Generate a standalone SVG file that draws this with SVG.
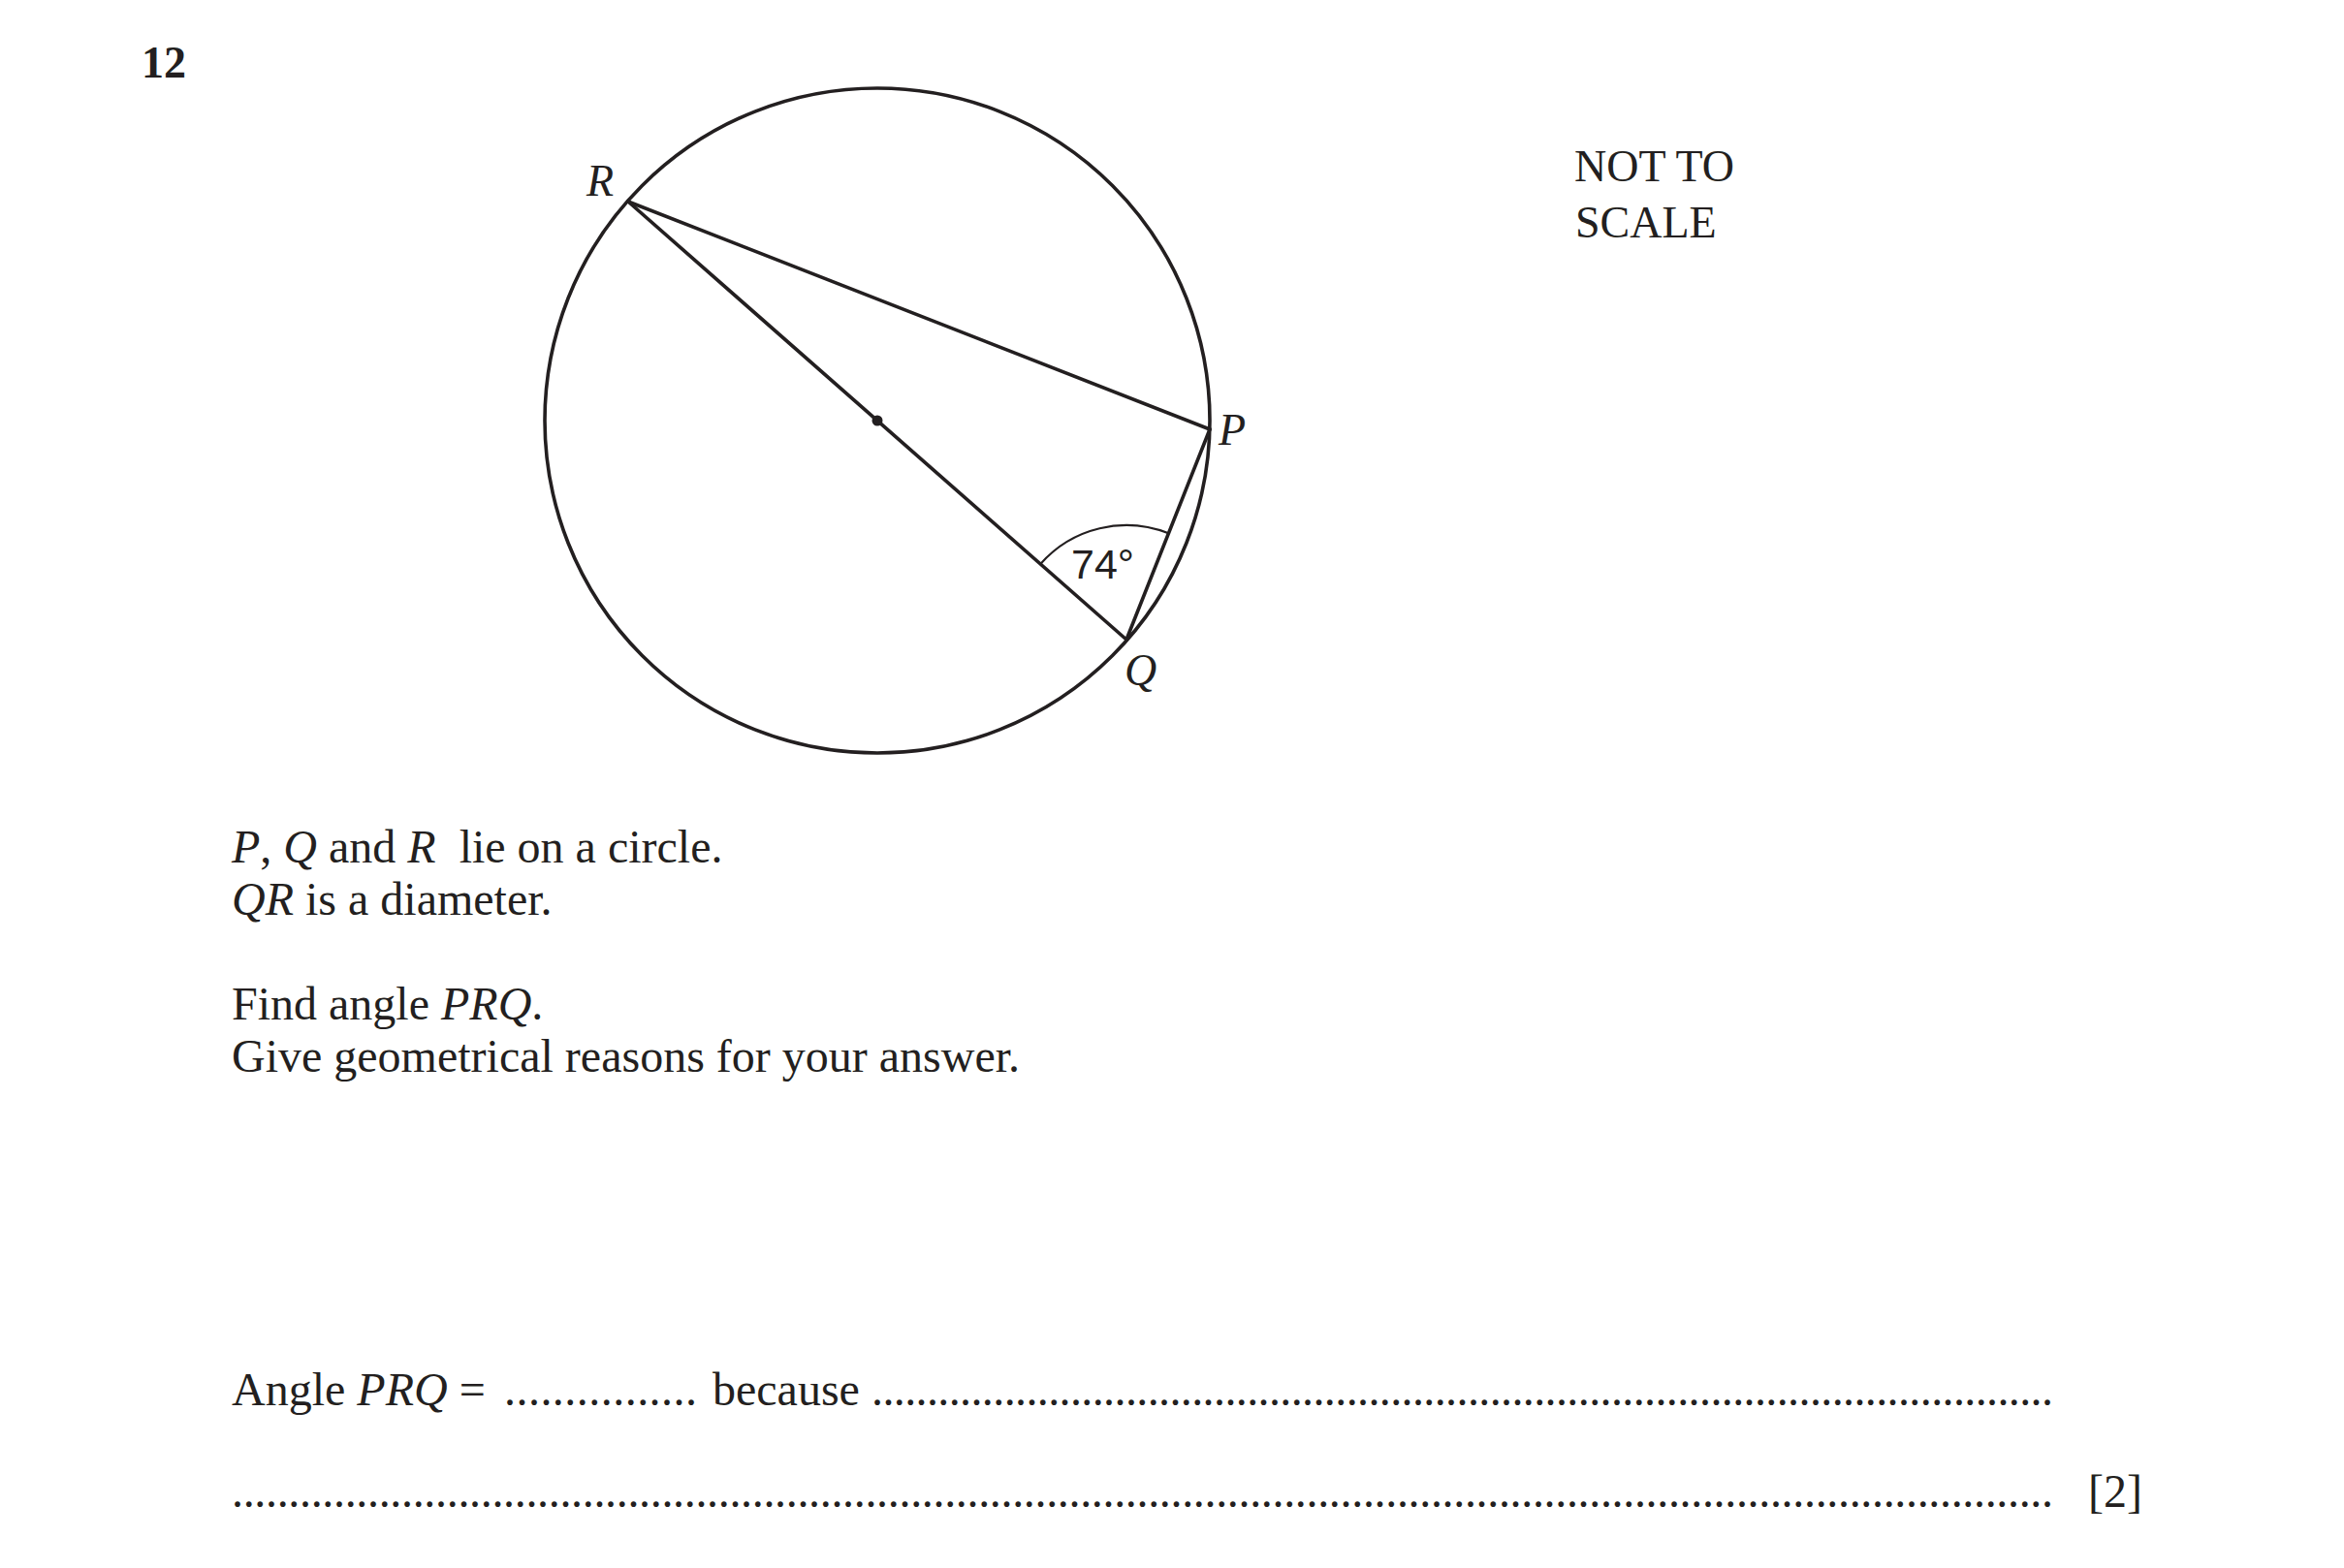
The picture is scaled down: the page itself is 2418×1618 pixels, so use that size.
<svg xmlns="http://www.w3.org/2000/svg" width="2418" height="1618" viewBox="0 0 2418 1618">
<style>
.t{font-family:"Liberation Serif","Times New Roman",serif;font-size:48px;fill:#231f20;white-space:pre}
.i{font-style:italic}
.lab{font-family:"Liberation Serif","Times New Roman",serif;font-size:46px;font-style:italic;fill:#231f20}
.ln{stroke:#231f20;stroke-width:3.6;fill:none;stroke-linecap:round}
</style>
<rect width="2418" height="1618" fill="#fff"/>
<text class="t" x="146" y="80" style="font-weight:bold;font-size:46px">12</text>
<g id="notscale">
<text class="t" x="1624" y="187" style="font-size:46px">NOT TO</text>
<text class="t" x="1625" y="245" style="font-size:46px">SCALE</text>
</g>
<g id="circle">
<circle class="ln" cx="905" cy="434" r="343"/>
<circle cx="905" cy="434" r="5.5" fill="#231f20"/>
</g>
<g id="connectors">
<line class="ln" x1="648" y1="208" x2="1162" y2="660"/>
<line class="ln" x1="648" y1="208" x2="1248" y2="443"/>
<line class="ln" x1="1248" y1="443" x2="1162" y2="660"/>
<path d="M1073.3 582 A118 118 0 0 1 1205.4 550.3" fill="none" stroke="#231f20" stroke-width="2.2"/>
</g>
<g id="R"><text class="lab" x="605" y="202">R</text></g>
<g id="P"><text class="lab" x="1257" y="459">P</text></g>
<g id="Q"><text class="lab" x="1160" y="707">Q</text></g>
<g id="angle"><text x="1105" y="597" style="font-family:'Liberation Sans',Arial,sans-serif;font-size:43px;fill:#231f20">74°</text></g>
<g id="question">
<text class="t" x="239" y="890"><tspan class="i">P</tspan>, <tspan class="i">Q</tspan> and <tspan class="i">R</tspan>  lie on a circle.</text>
<text class="t" x="239" y="944"><tspan class="i">QR</tspan> is a diameter.</text>
<text class="t" x="239" y="1052">Find angle <tspan class="i">PRQ</tspan>.</text>
<text class="t" x="239" y="1106">Give geometrical reasons for your answer.</text>
</g>
<g id="answer">
<text class="t" x="239" y="1450">Angle <tspan class="i">PRQ</tspan> =</text>
<text class="t" x="520" y="1450" textLength="199" lengthAdjust="spacing">................</text>
<text class="t" x="735" y="1450">because</text>
<text class="t" x="899" y="1450" textLength="1219" lengthAdjust="spacing">...........................................................................................................</text>
<text class="t" x="239" y="1555" textLength="1879" lengthAdjust="spacing">.................................................................................................................................................................</text>
<text class="t" x="2154" y="1555">[2]</text>
</g>
</svg>
